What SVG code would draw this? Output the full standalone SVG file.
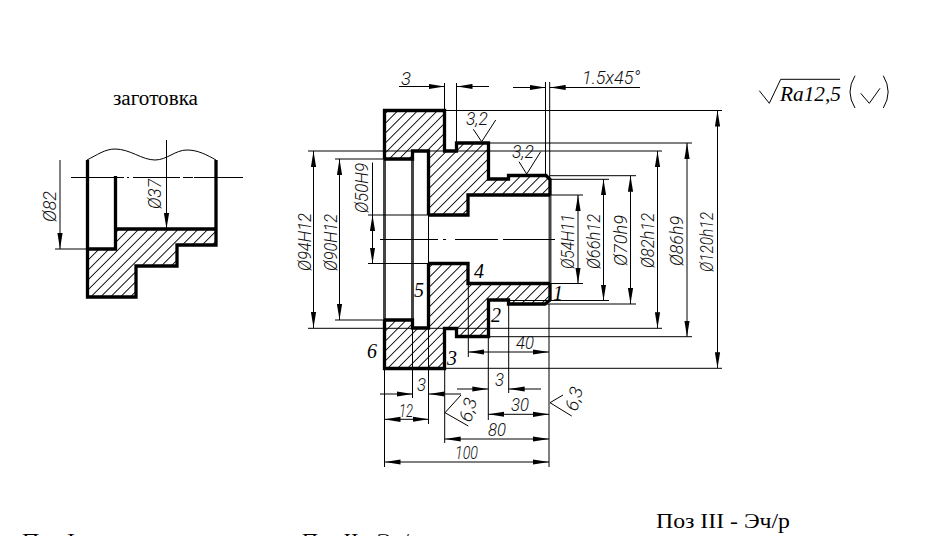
<svg xmlns="http://www.w3.org/2000/svg" width="932" height="536" viewBox="0 0 932 536">
<style>
.t{fill:none;stroke:#000;stroke-width:1}
.k{fill:none;stroke:#000;stroke-width:3.300;stroke-linejoin:miter}
.g{fill:none;stroke:#444;stroke-width:3}
.h{fill:none;stroke:#000;stroke-width:900;stroke-dasharray:0.900 6.100}
.d{font-family:"Roboto","Liberation Sans",sans-serif;font-style:italic;font-weight:300;font-size:18px;fill:#111}
.n{font-family:"Liberation Serif",serif;font-style:italic;font-size:20px;fill:#000}
.s{font-family:"Liberation Serif",serif;font-size:20px;fill:#000}
.a{marker-end:url(#ar)}
.b{marker-start:url(#ar);marker-end:url(#ar)}
</style>
<defs>
<clipPath id="c0"><path d="M87.5,249H115V229H216V245H177V266H136V297H87.5Z"/></clipPath>
<clipPath id="c1"><path d="M384,110H444V151H456V143H488V179H508V175H546L550,179V195H468V215H428V151H412V159H384Z"/></clipPath>
<clipPath id="c2"><path d="M384,320H412V328H428V263H468V283H550V300L545,304H509V300H488V337H457V328H445V368H384Z"/></clipPath>
<marker id="ar" markerUnits="userSpaceOnUse" markerWidth="16" markerHeight="6" refX="16" refY="3" orient="auto-start-reverse">
<path d="M0,0.4 L16,3 L0,5.6 Z" fill="#000"/>
</marker>
</defs>
<rect width="932" height="536" fill="#fff"/>

<g id="blank">
<g clip-path="url(#c0)"><path class="h" d="M0,100L400,500"/></g>
<path class="t" d="M87,160C97,155 105,149 115,149C130,149 142,160 155,160C167,160 175,150 187,150C198,150 207,155 216,160"/>
<path class="k" d="M87.5,160V297H136V266H177V245H216V160"/>
<path class="k" d="M115.500,176V249H87.500M115.500,229H216"/>
<path class="t" d="M71,177.500H124M127,177.500H129M133,177.500H180M183,177.500H193M194,177.500H243"/>
</g>

<g id="part">
<g clip-path="url(#c1)"><path class="h" d="M300,0L900,600"/></g>
<g clip-path="url(#c2)"><path class="h" d="M300,0L900,600"/></g>
<path class="g" d="M384.500,159V320M412.500,159V320M550,195V283"/>
<path class="k" d="M384.500,159V110.500H444.500V151H456.500V143H488.500V179H508.500V175.500H546L550,179.500V195"/>
<path class="k" d="M384.500,320V368.500H444.500V328.500H456.500V336.500H488.500V300H508.500V304H545L550,300V283"/>
<path class="k" d="M384,159H412.500V151H428.500V215M384,320H412.500V328H428.500V263"/>
<path class="k" d="M550,195H468V215H428M550,283.500H468V263.500H428"/>
<path class="t" d="M428.500,215V263"/>
</g>

<g id="connectors">
<path class="t" d="M380,239.500H438M443,239.500H446M455,239.500H498M503,239.500H506M506,239.500H555"/>
<path class="t" d="M444.500,83V110M456.500,83V143M545.500,82V175M549.700,82V179"/>
<path class="t a" d="M399,86.500H444.500"/>
<path class="t a" d="M489,86.500H456.500"/>
<path class="t a" d="M513,87.500H545.500"/>
<path class="t a" d="M640,87.500H549.700"/>
<path class="t" d="M444,110.500H722M488,143H692M308,151H662M335,159H384M550,175.700H636M550,179.300H609M550,195H583"/>
<path class="t" d="M550,283.500H583M509,300.500H609M545,304H636M308,328.300H662M488,336.700H692M445,368.300H722M335,320H384"/>
<path class="t" d="M368,215H428M368,263.500H428"/>
<path class="t b" d="M313.500,151V328"/>
<path class="t b" d="M339.500,159V320"/>
<path class="t" d="M372.500,162.500V215"/>
<path class="t b" d="M372.500,215V263.500"/>
<path class="t b" d="M578,195V283.500"/>
<path class="t b" d="M603.500,179.300V300.500"/>
<path class="t b" d="M630.500,175.700V304"/>
<path class="t b" d="M657.500,151V328.300"/>
<path class="t b" d="M687,143V336.700"/>
<path class="t b" d="M717.500,110.500V368.300"/>
<path class="t a" d="M60,160V249"/>
<path class="t" d="M55,249H86"/>
<path class="t a" d="M166.500,140V229"/>
<path class="t" d="M384.500,368V467M549,304V467M468.300,283V357M488.300,337V420M508.700,304V393M412.500,328V398M428.500,328V424M444.700,368V443"/>
<path class="t b" d="M468.300,352H549"/>
<path class="t a" d="M457,389H488.300"/>
<path class="t a" d="M541,389H508.700"/>
<path class="t a" d="M380,394H412.500"/>
<path class="t a" d="M461,394H428.500"/>
<path class="t b" d="M384.500,419.300H428.500"/>
<path class="t b" d="M488.300,414.300H549"/>
<path class="t b" d="M444.700,439H549"/>
<path class="t b" d="M384.500,462H549"/>
<path class="t" d="M473.300,129.300L481.700,141.700L495.700,120M519,161.700L526.700,174L540.700,151.700"/>
<path class="t" d="M461,395L445,412.700L468.300,426M563,395L550,402.700L571.700,416"/>
</g>

<g id="roughness">
<path class="t" d="M759.300,90.700L769.300,103.300L780.700,79.300H840"/>
<path class="t" d="M855,75.700Q845,92 855,108M883.300,75.700Q893,92 883.300,108M860.700,93.300L869.300,103.300L880,88.300"/>
<text class="n" x="780" y="101" textLength="61" lengthAdjust="spacingAndGlyphs">Ra12,5</text>
</g>

<g id="labels">
<text class="s" x="113" y="105" textLength="85" lengthAdjust="spacingAndGlyphs">заготовка</text>
<text class="s" x="656" y="528" style="font-size:22px" textLength="134" lengthAdjust="spacingAndGlyphs">Поз III - Эч/р</text>
<text class="s" x="22" y="548" style="font-size:22px" textLength="53" lengthAdjust="spacingAndGlyphs">Поз I</text>
<text class="s" x="302" y="548" style="font-size:22px" textLength="118" lengthAdjust="spacingAndGlyphs">Поз II - Эч/р</text>
<text class="n" x="367" y="358">6</text>
<text class="n" x="447" y="365">3</text>
<text class="n" x="491" y="322">2</text>
<text class="n" x="553" y="300">1</text>
<text class="n" x="414" y="297">5</text>
<text class="n" x="474" y="278">4</text>
<text class="d" x="401" y="85" textLength="10" lengthAdjust="spacingAndGlyphs">3</text>
<text class="d" x="582" y="84" textLength="58" lengthAdjust="spacingAndGlyphs">1.5x45°</text>
<text class="d" x="466" y="125" textLength="22" lengthAdjust="spacingAndGlyphs">3,2</text>
<text class="d" x="512" y="158" textLength="22" lengthAdjust="spacingAndGlyphs">3,2</text>
<text class="d" x="516" y="349" textLength="18" lengthAdjust="spacingAndGlyphs">40</text>
<text class="d" x="495" y="386" textLength="9" lengthAdjust="spacingAndGlyphs">3</text>
<text class="d" x="417" y="391" textLength="9" lengthAdjust="spacingAndGlyphs">3</text>
<text class="d" x="399" y="417" textLength="14" lengthAdjust="spacingAndGlyphs">12</text>
<text class="d" x="511" y="411" textLength="18" lengthAdjust="spacingAndGlyphs">30</text>
<text class="d" x="488" y="436" textLength="18" lengthAdjust="spacingAndGlyphs">80</text>
<text class="d" x="455" y="459" textLength="23" lengthAdjust="spacingAndGlyphs">100</text>
<text class="d" transform="translate(56,222) rotate(-90)" textLength="31" lengthAdjust="spacingAndGlyphs">Ø82</text>
<text class="d" transform="translate(161,209) rotate(-90)" textLength="30" lengthAdjust="spacingAndGlyphs">Ø37</text>
<text class="d" transform="translate(311,271) rotate(-90)" textLength="58" lengthAdjust="spacingAndGlyphs">Ø94H12</text>
<text class="d" transform="translate(337,271) rotate(-90)" textLength="57" lengthAdjust="spacingAndGlyphs">Ø90H12</text>
<text class="d" transform="translate(368,213) rotate(-90)" textLength="50" lengthAdjust="spacingAndGlyphs">Ø50H9</text>
<text class="d" transform="translate(574,269) rotate(-90)" textLength="55" lengthAdjust="spacingAndGlyphs">Ø54H11</text>
<text class="d" transform="translate(600,269) rotate(-90)" textLength="55" lengthAdjust="spacingAndGlyphs">Ø66h12</text>
<text class="d" transform="translate(627,266) rotate(-90)" textLength="51" lengthAdjust="spacingAndGlyphs">Ø70h9</text>
<text class="d" transform="translate(654,268) rotate(-90)" textLength="55" lengthAdjust="spacingAndGlyphs">Ø82h12</text>
<text class="d" transform="translate(683,266) rotate(-90)" textLength="50" lengthAdjust="spacingAndGlyphs">Ø86h9</text>
<text class="d" transform="translate(713,272) rotate(-90)" textLength="60" lengthAdjust="spacingAndGlyphs">Ø120h12</text>
<text class="d" transform="translate(471,423) rotate(-75)" textLength="24" lengthAdjust="spacingAndGlyphs">6,3</text>
<text class="d" transform="translate(577,412) rotate(-75)" textLength="24" lengthAdjust="spacingAndGlyphs">6,3</text>
</g>
</svg>
